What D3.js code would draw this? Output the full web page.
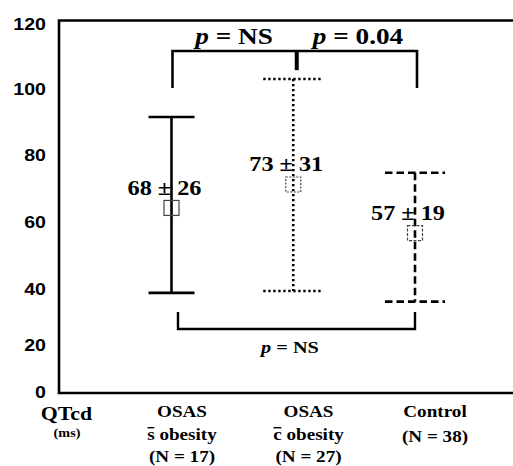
<!DOCTYPE html>
<html>
<head>
<meta charset="utf-8">
<script src="https://cdn.jsdelivr.net/npm/d3@7"></script>
<style>
  html, body { margin: 0; padding: 0; background: #fff; }
  svg { display: block; }
</style>
</head>
<body>
<script>
// ---------- data ----------
const categories = ["OSAS s obesity", "OSAS c obesity", "Control"];
const meanValues = [64.2, 71.2, 56.7];
const upperValues = [91.5, 103.1, 74.7];
const lowerValues = [38.6, 39.3, 35.5];
const meanLabels = ["68 ± 26", "73 ± 31", "57 ± 19"];
const catLine1 = ["OSAS", "OSAS", "Control"];
const catOverLetter = ["s", "c", ""];
const catLine2 = [" obesity", " obesity", "(N = 38)"];
const catLine3 = ["(N = 17)", "(N = 27)", ""];
const yTickValues = [0, 20, 40, 60, 80, 100, 120];
const topBracketLevel = 111.7, topBracketLegEnd = 100.3, topBracketMid = 105.8;
const bottomBracketLevel = 25.7, bottomBracketLegEnd = 31.8;
const pTopLeft = "NS", pTopRight = "0.04", pBottom = "NS";

// ---------- layout ----------
const W = 513, H = 466;
const svg = d3.select("body").append("svg").attr("width", W).attr("height", H);

// the original figure's axis is not evenly spaced; map ticks to their drawn positions
const y = d3.scaleLinear().domain(yTickValues).range([392, 345, 289, 222, 155, 89, 24]);
const x = d3.scalePoint().domain(categories).range([171.5, 415]);
const xLab = d3.scalePoint().domain(categories).range([182, 435]);

const serif = "'Liberation Serif', 'Times New Roman', serif";
const sans = "'Liberation Sans', Arial, sans-serif";
const SX = 1.16;

function stretchedText(g, tx, ty, sx) {
  return g.append("g").attr("transform", `translate(${tx},${ty}) scale(${sx},1)`).append("text");
}

// frame
const frameTop = 20.5, frameBottom = 393, frameLeft = 59;
svg.append("path")
  .attr("d", `M${W + 5},${frameTop}H${frameLeft}V${frameBottom}H${W + 5}`)
  .attr("fill", "none").attr("stroke", "#000").attr("stroke-width", 2.6);

// y axis labels
const yAxis = svg.append("g").attr("transform", "translate(46,0)")
  .call(d3.axisLeft(y).tickValues(yTickValues).tickSize(0).tickPadding(0).tickFormat(d3.format("d")));
yAxis.select(".domain").remove();
yAxis.selectAll("text")
  .attr("font-family", sans).attr("font-weight", "bold").attr("font-size", 16.3)
  .attr("fill", "#000").attr("x", 0).attr("dy", "0.36em")
  .attr("transform", "scale(1.2,1)");

// error bars
const capHalf = [23, 30, 30];
const dashes = [null, "2.4,2.6", "7.5,4"];
const boxDash = [null, "2,1.5", "3,1.5"];
categories.forEach((c, i) => {
  const cx = x(c);
  const g = svg.append("g");
  const st = (sel) => sel.attr("stroke", "#000").attr("stroke-width", 2.6)
    .attr("stroke-dasharray", dashes[i]).attr("fill", "none");
  st(g.append("line").attr("x1", cx).attr("x2", cx).attr("y1", y(upperValues[i])).attr("y2", y(lowerValues[i])));
  st(g.append("line").attr("x1", cx - capHalf[i]).attr("x2", cx + capHalf[i]).attr("y1", y(upperValues[i])).attr("y2", y(upperValues[i])));
  st(g.append("line").attr("x1", cx - capHalf[i]).attr("x2", cx + capHalf[i]).attr("y1", y(lowerValues[i])).attr("y2", y(lowerValues[i])));
  // mean box
  g.append("rect").attr("x", cx - 7.5).attr("y", y(meanValues[i]) - 7.5)
    .attr("width", 15).attr("height", 15)
    .attr("fill", "none").attr("stroke", "#444").attr("stroke-width", 1.2)
    .attr("stroke-dasharray", boxDash[i]);
  // mean ± sd label
  g.append("text").attr("x", cx - 44).attr("y", y(meanValues[i]) - 13)
    .attr("font-family", serif).attr("font-weight", "bold").attr("font-size", 20)
    .attr("textLength", 74).attr("lengthAdjust", "spacingAndGlyphs")
    .text(meanLabels[i]);
});

// top bracket
const bx0 = x(categories[0]) + 1, bx2 = x(categories[2]) + 2, bxm = x(categories[1]) + 3.5;
svg.append("path")
  .attr("d", `M${bx0},${y(topBracketLegEnd)}V${y(topBracketLevel)}H${bx2}V${y(topBracketLegEnd)}`)
  .attr("fill", "none").attr("stroke", "#000").attr("stroke-width", 2.6);
svg.append("line").attr("x1", bxm).attr("x2", bxm).attr("y1", y(topBracketLevel)).attr("y2", y(topBracketMid))
  .attr("stroke", "#000").attr("stroke-width", 4);

// bottom bracket
const cx0 = x(categories[0]) + 6.5, cx2 = x(categories[2]);
svg.append("path")
  .attr("d", `M${cx0},${y(bottomBracketLegEnd)}V${y(bottomBracketLevel)}H${cx2}V${y(bottomBracketLegEnd)}`)
  .attr("fill", "none").attr("stroke", "#000").attr("stroke-width", 2.4);

// p-value labels
function pLabel(cxp, by, size, val) {
  const t = stretchedText(svg, cxp, by, SX)
    .attr("text-anchor", "middle").attr("font-family", serif).attr("font-weight", "bold")
    .attr("font-size", size);
  t.append("tspan").attr("font-style", "italic").text("p");
  t.append("tspan").text(" = " + val);
}
pLabel(234, 44, 23.5, pTopLeft);
pLabel(358, 44, 23.5, pTopRight);
pLabel(290, 352.5, 17.5, pBottom);

// x axis title
stretchedText(svg, 66.5, 420, 1.12).attr("text-anchor", "middle")
  .attr("font-family", serif).attr("font-weight", "bold").attr("font-size", 19.5).text("QTcd");
stretchedText(svg, 67, 437, 1.05).attr("text-anchor", "middle")
  .attr("font-family", serif).attr("font-weight", "bold").attr("font-size", 13.5).text("(ms)");

// category labels
categories.forEach((c, i) => {
  const lx = xLab(c);
  const common = (t) => t.attr("text-anchor", "middle").attr("font-family", serif)
    .attr("font-weight", "bold").attr("font-size", 16.5);
  common(stretchedText(svg, lx, 417, SX)).text(catLine1[i]);
  const t2 = common(stretchedText(svg, lx, catOverLetter[i] ? 440 : 442, SX));
  if (catOverLetter[i]) {
    t2.append("tspan").text(catOverLetter[i]);
  }
  t2.append("tspan").text(catLine2[i]);
  if (catOverLetter[i]) {
    // bar over the first letter (s̄ = without, c̄ = with)
    const ext = t2.node().getExtentOfChar(0);
    d3.select(t2.node().parentNode).append("line")
      .attr("x1", ext.x + 0.3).attr("x2", ext.x + ext.width - 0.3)
      .attr("y1", -12.3).attr("y2", -12.3)
      .attr("stroke", "#000").attr("stroke-width", 1.4);
  }
  if (catLine3[i]) common(stretchedText(svg, lx, 462, SX)).text(catLine3[i]);
});
</script>
</body>
</html>
